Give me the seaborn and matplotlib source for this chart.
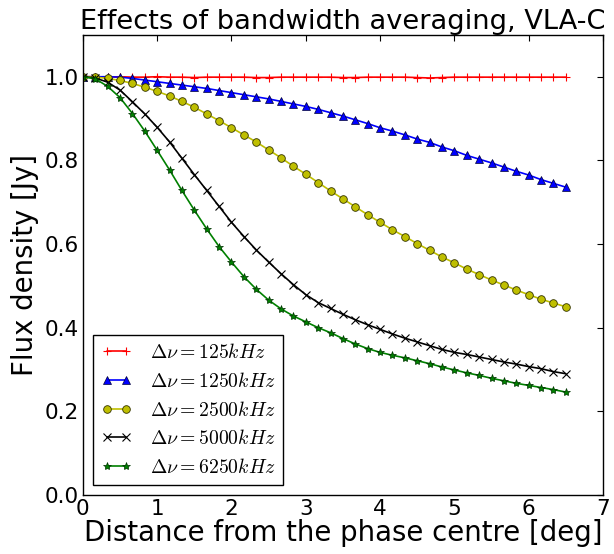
import numpy as np
import pandas as pd
import matplotlib
matplotlib.use("Agg")
import matplotlib.pyplot as plt
import seaborn as sns

# Distance from phase centre [deg]
distance = [0.0, 0.167, 0.333, 0.5, 0.667, 0.833, 1.0, 1.167, 1.333, 1.5,
            1.667, 1.833, 2.0, 2.167, 2.333, 2.5, 2.667, 2.833, 3.0, 3.167,
            3.333, 3.5, 3.667, 3.833, 4.0, 4.167, 4.333, 4.5, 4.667, 4.833,
            5.0, 5.167, 5.333, 5.5, 5.667, 5.833, 6.0, 6.167, 6.333, 6.5]

flux_125 = [1.0, 1.0, 0.999, 1.0, 0.999, 0.999, 1.0, 0.999, 0.999, 0.998,
            0.999, 0.999, 0.999, 0.999, 0.998, 0.998, 0.999, 0.999, 0.999, 0.999,
            0.999, 0.998, 0.998, 0.999, 0.999, 0.999, 0.999, 0.998, 0.997, 0.998,
            0.999, 0.999, 0.999, 0.999, 0.999, 0.999, 0.999, 0.999, 0.999, 0.999]

flux_1250 = [1.0, 1.0, 1.0, 0.999, 0.996, 0.992, 0.988, 0.984, 0.980, 0.976,
             0.972, 0.967, 0.962, 0.957, 0.952, 0.947, 0.941, 0.935, 0.929, 0.922,
             0.914, 0.906, 0.897, 0.888, 0.878, 0.870, 0.861, 0.851, 0.843, 0.832,
             0.823, 0.812, 0.803, 0.794, 0.784, 0.774, 0.765, 0.754, 0.745, 0.736]

flux_2500 = [1.0, 0.999, 0.996, 0.991, 0.984, 0.975, 0.965, 0.954, 0.941, 0.927,
             0.911, 0.895, 0.878, 0.861, 0.844, 0.825, 0.806, 0.786, 0.767, 0.747,
             0.727, 0.708, 0.689, 0.670, 0.652, 0.634, 0.618, 0.601, 0.585, 0.569,
             0.555, 0.540, 0.527, 0.514, 0.502, 0.490, 0.479, 0.468, 0.459, 0.450]

flux_5000 = [1.0, 0.997, 0.987, 0.968, 0.940, 0.911, 0.879, 0.844, 0.805, 0.766,
             0.728, 0.690, 0.652, 0.618, 0.586, 0.557, 0.529, 0.503, 0.479, 0.460,
             0.446, 0.432, 0.419, 0.407, 0.396, 0.385, 0.375, 0.366, 0.357, 0.348,
             0.341, 0.336, 0.330, 0.324, 0.318, 0.313, 0.307, 0.302, 0.295, 0.290]

flux_6250 = [1.0, 0.995, 0.977, 0.950, 0.912, 0.870, 0.824, 0.777, 0.728, 0.681,
             0.636, 0.594, 0.557, 0.522, 0.492, 0.466, 0.445, 0.428, 0.414, 0.400,
             0.388, 0.374, 0.361, 0.350, 0.341, 0.334, 0.328, 0.321, 0.314, 0.306,
             0.299, 0.292, 0.286, 0.279, 0.273, 0.267, 0.262, 0.257, 0.252, 0.246]

labels = [r'$\Delta\nu=125kHz$', r'$\Delta\nu=1250kHz$', r'$\Delta\nu=2500kHz$',
          r'$\Delta\nu=5000kHz$', r'$\Delta\nu=6250kHz$']
series = [flux_125, flux_1250, flux_2500, flux_5000, flux_6250]

styles = [
    dict(color='#ff0000', marker='+', markersize=6, markeredgecolor='#ff0000', markeredgewidth=0.8),
    dict(color='#0000ff', marker='^', markersize=6, markeredgecolor='#000033', markeredgewidth=0.5),
    dict(color='#bfbf00', marker='o', markersize=5.5, markeredgecolor='#333300', markeredgewidth=0.6),
    dict(color='#000000', marker='x', markersize=5.5, markeredgecolor='#000000', markeredgewidth=0.8),
    dict(color='#008000', marker='*', markersize=6, markeredgecolor='#003300', markeredgewidth=0.5),
]

sns.set_style("white")
plt.rcParams['font.family'] = ['DejaVu Sans']
plt.rcParams['mathtext.fontset'] = 'cm'
plt.rcParams['text.color'] = 'black'
plt.rcParams['axes.labelcolor'] = 'black'
plt.rcParams['xtick.color'] = 'black'
plt.rcParams['ytick.color'] = 'black'

fig = plt.figure(figsize=(6.14, 5.54), dpi=100)
ax = fig.add_axes([0.135, 0.1065, 0.847, 0.8305])

for vals, lab, st in zip(series, labels, styles):
    df = pd.DataFrame({'d': distance, 'f': vals})
    sns.lineplot(data=df, x='d', y='f', ax=ax, label=lab, linewidth=1.2, **st)

ax.set_xlim(0, 7)
ax.set_ylim(0, 1.1)
ax.set_xticks([0, 1, 2, 3, 4, 5, 6, 7])
ax.set_yticks([0.0, 0.2, 0.4, 0.6, 0.8, 1.0])
ax.set_yticklabels(['0.0', '0.2', '0.4', '0.6', '0.8', '1.0'])
ax.tick_params(direction='in', top=True, right=True, length=4, width=0.8,
               labelsize=15.5, pad=3, colors='black')
for sp in ax.spines.values():
    sp.set_color('black')
    sp.set_linewidth(1.0)

ax.set_xlabel('Distance from the phase centre [deg]', fontsize=19.8, labelpad=0)
ax.set_ylabel('Flux density [Jy]', fontsize=19.8, labelpad=4)
ax.set_title('Effects of bandwidth averaging, VLA-C', fontsize=19.6, pad=4,
             color='black')

leg = ax.legend(loc='lower left', fontsize=14.2, numpoints=2, fancybox=False,
                framealpha=1, edgecolor='black', handlelength=1.6,
                handletextpad=0.9, labelspacing=0.5, borderaxespad=0.5)
leg.get_frame().set_linewidth(1.0)

fig.savefig('out.png', dpi=100)
